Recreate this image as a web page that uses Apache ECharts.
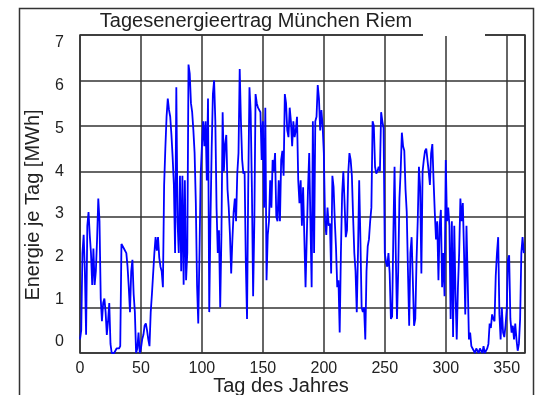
<!DOCTYPE html>
<html>
<head>
<meta charset="utf-8">
<script src="https://cdn.jsdelivr.net/npm/echarts@6/dist/echarts.min.js"></script>
<style>
  html, body { margin: 0; padding: 0; background: #fff; }
  #chart { width: 536px; height: 395px; }
</style>
</head>
<body>
<div id="chart"></div>
<script>
// Tagesenergie (MWh) je Tag des Jahres
const energy = [
  0.3, 0.5, 2.2, 2.6, 1.8, 0.4, 2.8, 3.1, 2.6, 2.2,
  1.5, 2.3, 1.5, 1.8, 2.5, 3.4, 2.9, 1.2, 0.7, 1.1,
  1.2, 0.9, 0.4, 0.7, 1.1, 0.2, 0.0, 0.0, 0.0, 0.05,
  0.1, 0.1, 0.1, 0.15, 2.4, 2.35, 2.3, 2.3, 2.2, 1.9,
  1.45, 0.9, 1.8, 2.05, 1.3, 0.9, 0.0, 0.1, 0.45, 0.0,
  0.1, 0.3, 0.4, 0.6, 0.65, 0.5, 0.3, 0.15, 0.9, 1.3,
  1.75, 2.2, 2.55, 2.25, 2.55, 2.1, 1.9, 1.8, 1.45, 3.7,
  4.5, 5.2, 5.6, 5.35, 5.2, 4.8, 4.3, 3.7, 2.2, 5.85,
  2.9, 2.2, 3.9, 1.8, 3.9, 1.5, 3.8, 1.6, 2.2, 6.35,
  6.15, 5.5, 5.3, 4.9, 4.4, 3.3, 1.5, 0.65, 2.2, 3.95,
  4.55, 5.1, 4.55, 5.1, 3.8, 5.6, 0.9, 2.9, 4.5, 5.7,
  6.0, 5.1, 3.2, 2.2, 2.7, 1.0, 2.6, 5.3, 4.0, 4.6,
  4.8, 3.6, 3.2, 2.6, 1.75, 2.5, 3.1, 3.4, 2.9, 3.95,
  4.4, 6.25, 5.1, 4.25, 3.95, 4.0, 2.0, 0.75, 3.7, 5.85,
  5.3, 3.6, 1.25, 2.9, 5.7, 5.5, 5.4, 5.4, 5.3, 4.25,
  5.1, 3.2, 5.4, 1.6, 2.6, 2.9, 3.8, 3.2, 4.25, 4.0,
  4.4, 3.0, 2.9, 3.8, 2.9, 4.25, 4.45, 3.9, 5.7, 5.5,
  4.9, 4.75, 5.4, 5.1, 4.55, 5.1, 4.75, 4.9, 5.2, 3.8,
  3.3, 3.8, 2.8, 3.65, 2.55, 1.45, 2.55, 3.6, 4.4, 2.9,
  1.45, 5.1, 2.2, 5.1, 5.2, 5.9, 5.6, 4.9, 5.35, 5.0,
  4.4, 2.9, 2.6, 3.2, 2.8, 2.85, 1.75, 3.9, 3.65, 2.9,
  2.3, 1.45, 1.6, 0.45, 2.2, 3.5, 4.0, 3.3, 2.55, 2.7,
  3.95, 4.4, 4.25, 3.9, 3.0, 2.2, 1.8, 0.9, 2.2, 3.8,
  2.5, 1.0, 0.9, 1.0, 0.3, 1.8, 2.35, 2.5, 2.9, 3.2,
  5.1, 5.0, 4.1, 3.95, 4.0, 4.1, 4.0, 5.3, 5.1, 4.95,
  2.2, 2.0, 1.9, 2.2, 1.75, 0.75, 0.8, 2.6, 4.1, 2.2,
  0.75, 1.8, 3.4, 4.0, 4.85, 4.55, 4.45, 3.6, 3.1, 1.8,
  0.6, 2.2, 2.55, 1.6, 0.6, 0.75, 2.0, 2.9, 4.1, 3.65,
  1.75, 4.0, 4.25, 4.45, 4.5, 4.25, 4.0, 3.7, 4.4, 4.6,
  3.8, 3.1, 2.5, 2.9, 1.6, 2.8, 3.15, 1.45, 2.2, 1.25,
  4.25, 2.9, 3.2, 2.8, 0.75, 2.9, 0.35, 2.8, 1.3, 0.3,
  1.45, 2.2, 3.4, 2.9, 3.3, 2.2, 0.85, 2.8, 1.6, 0.3,
  0.45, 0.15, 0.1, 0.05, 0.0, 0.1, 0.05, 0.0, 0.1, 0.05,
  0.0, 0.15, 0.0, 0.05, 0.1, 0.2, 0.65, 0.55, 0.85, 0.75,
  0.7, 1.7, 2.2, 2.55, 0.85, 0.3, 1.0, 0.45, 0.35, 0.6,
  0.95, 2.05, 2.15, 0.75, 0.45, 0.6, 0.3, 0.65, 0.3, 0.05,
  0.2, 0.75, 2.2, 2.55, 2.2
]

const xTicks = [0, 50, 100, 150, 200, 250, 300, 350]
const yTicks = [0, 1, 2, 3, 4, 5, 6, 7]

const titleText = 'Tagesenergieertrag München Riem'
const xName = 'Tag des Jahres'
const yName = 'Energie je Tag [MWh]'

const font = 'Liberation Sans, Arial, sans-serif'
const gridColor = '#333'

const chart = echarts.init(document.getElementById('chart'))

const option = {
  animation: false,
  backgroundColor: '#fff',
  grid: [
    {
      left: 80, top: 35, width: 445, height: 318,
      show: true, borderColor: gridColor, borderWidth: 1.5, backgroundColor: '#fff'
    },
    // nur fuer die leicht versetzten y-Beschriftungen
    { left: 80, top: 43, width: 445, height: 299 }
  ],
  xAxis: [
    {
      type: 'value', gridIndex: 0,
      min: xTicks[0], max: 365, interval: 50,
      axisLine: { show: false },
      axisTick: { show: false },
      splitLine: { show: true, lineStyle: { color: gridColor, width: 1.5 } },
      axisLabel: {
        fontFamily: font, fontSize: 16, color: '#222', margin: 8,
        formatter: v => (xTicks.includes(v) ? String(v) : '')
      }
    },
    { type: 'value', gridIndex: 1, min: 0, max: 1, show: false }
  ],
  yAxis: [
    {
      type: 'value', gridIndex: 0,
      min: yTicks[0], max: yTicks[yTicks.length - 1], interval: 1,
      axisLine: { show: false },
      axisTick: { show: false },
      axisLabel: { show: false },
      splitLine: { show: true, lineStyle: { color: gridColor, width: 1.5 } }
    },
    {
      type: 'value', gridIndex: 1,
      min: yTicks[0], max: yTicks[yTicks.length - 1], interval: 1,
      axisLine: { show: false },
      axisTick: { show: false },
      splitLine: { show: false },
      axisLabel: { fontFamily: font, fontSize: 16, color: '#222', margin: 16 }
    }
  ],
  graphic: [
    {
      type: 'rect', z: 100, silent: true,
      shape: { x: 19.5, y: 8.5, width: 514, height: 400 },
      style: { fill: 'none', stroke: gridColor, lineWidth: 1.5 }
    },
    {
      type: 'rect', z: 100, silent: true,
      shape: { x: 423, y: 32.5, width: 62, height: 3.5 },
      style: { fill: '#fff' }
    },
    {
      type: 'text', z: 100, silent: true,
      x: 256, y: 21,
      style: {
        text: titleText, fontFamily: font, fontSize: 20, fill: '#222',
        align: 'center', verticalAlign: 'middle'
      }
    },
    {
      type: 'text', z: 100, silent: true,
      x: 281, y: 386,
      style: {
        text: xName, fontFamily: font, fontSize: 20, fill: '#222',
        align: 'center', verticalAlign: 'middle'
      }
    },
    {
      type: 'text', z: 100, silent: true,
      x: 33, y: 205, rotation: Math.PI / 2,
      style: {
        text: yName, fontFamily: font, fontSize: 20, fill: '#222',
        align: 'center', verticalAlign: 'middle'
      }
    }
  ],
  series: [
    {
      type: 'line',
      xAxisIndex: 0, yAxisIndex: 0,
      data: energy.map((v, i) => [i, v]),
      showSymbol: false,
      lineStyle: { color: '#0000ff', width: 1.8 },
      z: 5
    }
  ]
}

chart.setOption(option)
</script>
</body>
</html>
